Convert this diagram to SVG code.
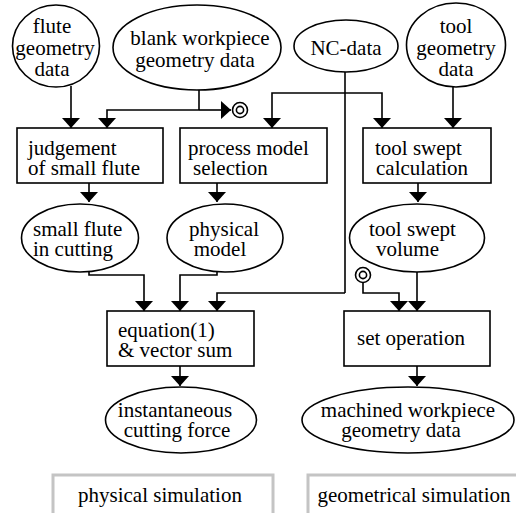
<svg xmlns="http://www.w3.org/2000/svg" width="516" height="513" viewBox="0 0 516 513">
  <style>
    .shape { fill: #fff; stroke: #000; stroke-width: 1.6; }
    .wire { fill: none; stroke: #000; stroke-width: 1.6; marker-end: url(#head); }
    .plain { fill: none; stroke: #000; stroke-width: 1.6; }
    .label { font-family: "Liberation Serif", "Times New Roman", "DejaVu Serif", serif; font-size: 21px; fill: #000; }
    .mid { text-anchor: middle; }
    .legend { fill: #fff; stroke: #c4c4c4; stroke-width: 3; }
  </style>
  <defs>
    <marker id="head" viewBox="0 0 10 18" refX="10" refY="9" markerWidth="10" markerHeight="18" markerUnits="userSpaceOnUse" orient="auto">
      <path d="M0,0 L10,9 L0,18 Z" fill="#000"/>
    </marker>
  </defs>

  <!-- connectors -->
  <g id="connectors">
    <path class="wire" d="M71,86 V128"/>
    <path class="plain" d="M199,90 V110"/>
    <path class="wire" d="M199,110 H107 V128"/>
    <path class="wire" d="M199,110 H231"/>
    <path class="plain" d="M345,72 V293"/>
    <path class="wire" d="M345,93 H272 V128"/>
    <path class="wire" d="M345,93 H382 V128"/>
    <path class="wire" d="M453,87 V128"/>
    <path class="wire" d="M89,183 V202"/>
    <path class="wire" d="M217,183 V202"/>
    <path class="wire" d="M418,183 V202"/>
    <path class="wire" d="M89,272 V275 H144 V311"/>
    <path class="wire" d="M217,272 V275 H180 V311"/>
    <path class="wire" d="M345,293 H217 V311"/>
    <path class="wire" d="M417,272 V311"/>
    <path class="wire" d="M363,283 V293 H399 V311"/>
    <path class="wire" d="M180,366 V386"/>
    <path class="wire" d="M417,366 V386"/>
  </g>

  <!-- terminal marks (double circles) -->
  <g id="mark-blank">
    <circle cx="240" cy="110" r="7.5" class="shape"/>
    <circle cx="240" cy="110" r="3.6" class="shape"/>
  </g>
  <g id="mark-set">
    <circle cx="363" cy="275" r="7.5" class="shape"/>
    <circle cx="363" cy="275" r="3.6" class="shape"/>
  </g>

  <!-- input data -->
  <g id="flute-geometry">
    <ellipse cx="56" cy="46" rx="43.5" ry="41" class="shape"/>
    <text class="label mid"><tspan x="52" y="33">flute</tspan><tspan x="55" y="55">geometry</tspan><tspan x="52" y="76">data</tspan></text>
  </g>
  <g id="blank-workpiece">
    <ellipse cx="197" cy="47.5" rx="84" ry="42.5" class="shape"/>
    <text class="label mid"><tspan x="200" y="45">blank workpiece</tspan><tspan x="195" y="67">geometry data</tspan></text>
  </g>
  <g id="nc-data">
    <ellipse cx="346" cy="46" rx="52" ry="26" class="shape"/>
    <text class="label mid" x="346" y="55">NC-data</text>
  </g>
  <g id="tool-geometry">
    <ellipse cx="456" cy="45" rx="49.5" ry="42" class="shape"/>
    <text class="label mid"><tspan x="456" y="33">tool</tspan><tspan x="456" y="55">geometry</tspan><tspan x="456" y="76">data</tspan></text>
  </g>

  <!-- processing steps -->
  <g id="judgement">
    <rect x="17" y="128" width="146" height="55" class="shape"/>
    <text class="label"><tspan x="28" y="155">judgement</tspan><tspan x="28" y="175">of small flute</tspan></text>
  </g>
  <g id="process-model">
    <rect x="180" y="128" width="147" height="55" class="shape"/>
    <text class="label"><tspan x="188" y="155">process model</tspan><tspan x="193" y="175">selection</tspan></text>
  </g>
  <g id="tool-swept-calc">
    <rect x="363" y="128" width="128" height="55" class="shape"/>
    <text class="label"><tspan x="375" y="155">tool swept</tspan><tspan x="376" y="175">calculation</tspan></text>
  </g>

  <!-- intermediate data -->
  <g id="small-flute">
    <ellipse cx="80" cy="238" rx="58.5" ry="34" class="shape"/>
    <text class="label"><tspan x="33" y="236">small flute</tspan><tspan x="33" y="256">in cutting</tspan></text>
  </g>
  <g id="physical-model">
    <ellipse cx="225" cy="238" rx="58" ry="34" class="shape"/>
    <text class="label mid"><tspan x="224" y="236">physical</tspan><tspan x="220" y="256">model</tspan></text>
  </g>
  <g id="tool-swept-volume">
    <ellipse cx="417" cy="238" rx="67.5" ry="34" class="shape"/>
    <text class="label"><tspan x="369" y="236">tool swept</tspan><tspan x="376" y="256">volume</tspan></text>
  </g>

  <!-- combination steps -->
  <g id="equation">
    <rect x="107" y="311" width="147" height="55" class="shape"/>
    <text class="label"><tspan x="118" y="337">equation(1)</tspan><tspan x="118" y="357">&amp; vector sum</tspan></text>
  </g>
  <g id="set-operation">
    <rect x="344" y="311" width="146" height="55" class="shape"/>
    <text class="label" x="357" y="345">set operation</text>
  </g>

  <!-- results -->
  <g id="cutting-force">
    <ellipse cx="181" cy="420" rx="75.5" ry="33" class="shape"/>
    <text class="label mid"><tspan x="175" y="417">instantaneous</tspan><tspan x="177" y="437">cutting force</tspan></text>
  </g>
  <g id="machined-workpiece">
    <ellipse cx="408" cy="420" rx="106" ry="33" class="shape"/>
    <text class="label mid"><tspan x="408" y="417">machined workpiece</tspan><tspan x="401" y="437">geometry data</tspan></text>
  </g>

  <!-- legend -->
  <g id="legend-physical">
    <rect x="53" y="475" width="220" height="44" class="legend"/>
    <text class="label mid" x="160" y="502">physical simulation</text>
  </g>
  <g id="legend-geometrical">
    <rect x="308" y="475" width="215" height="44" class="legend"/>
    <text class="label mid" x="414" y="502">geometrical simulation</text>
  </g>
</svg>
